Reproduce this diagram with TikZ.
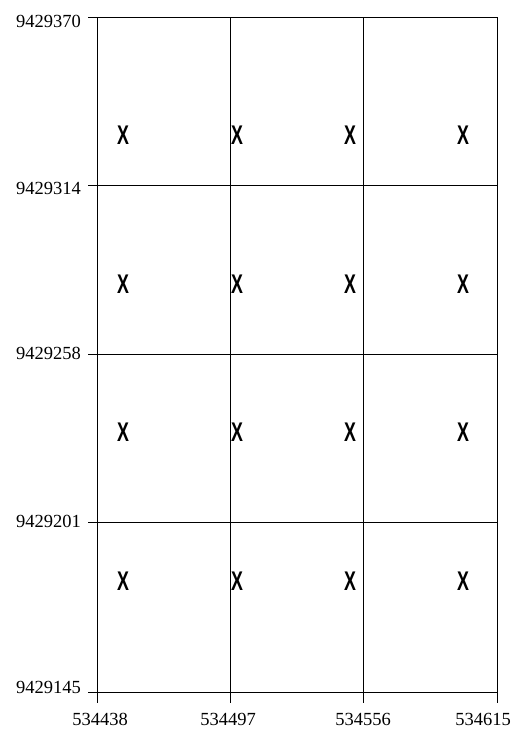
\documentclass[tikz,border=0pt]{standalone}
\usepackage{fontspec}
\setmainfont{Liberation Serif}
\newfontfamily\markfont{Liberation Sans}
\tikzset{
    gridline/.style={line width=0.8pt},
    coordlabel/.style={font=\fontsize{18.5}{20}\selectfont, inner sep=0pt},
    eastlabel/.style={coordlabel, anchor=base, text depth=0pt},
    pointmark/.style={font=\markfont\bfseries\fontsize{27}{28}\selectfont, inner sep=0pt}
}
\begin{document}
\begin{tikzpicture}[x=1pt,y=-1pt]
        \useasboundingbox (0,0) rectangle (515,731);
        % grid lines with ticks
        \foreach \x in {97,230,363,497} {
            \draw[gridline] (\x,17) -- (\x,703);
        }
        \foreach \y in {17,185,354,522,692} {
            \draw[gridline] (88,\y) -- (497,\y);
        }
        % northing labels
        \node[coordlabel, anchor=east] (n1) at (81,21) {9429370};
        \node[coordlabel, anchor=east] (n2) at (81,188) {9429314};
        \node[coordlabel, anchor=east] (n3) at (81,353) {9429258};
        \node[coordlabel, anchor=east] (n4) at (81,521) {9429201};
        \node[coordlabel, anchor=east] (n5) at (81,687) {9429145};
        % easting labels
        \node[eastlabel] (e1) at (100,725) {534438};
        \node[eastlabel] (e2) at (228,725) {534497};
        \node[eastlabel] (e3) at (363,725) {534556};
        \node[eastlabel] (e4) at (483,725) {534615};
        % sample points
        \foreach \x [count=\i] in {123,237,350,463} {
            \foreach \y [count=\j] in {135,284,432,581} {
                \node[pointmark] (p\i\j) at (\x,\y) {\scalebox{0.66}[1]{X}};
            }
        }
    \end{tikzpicture}
\end{document}
